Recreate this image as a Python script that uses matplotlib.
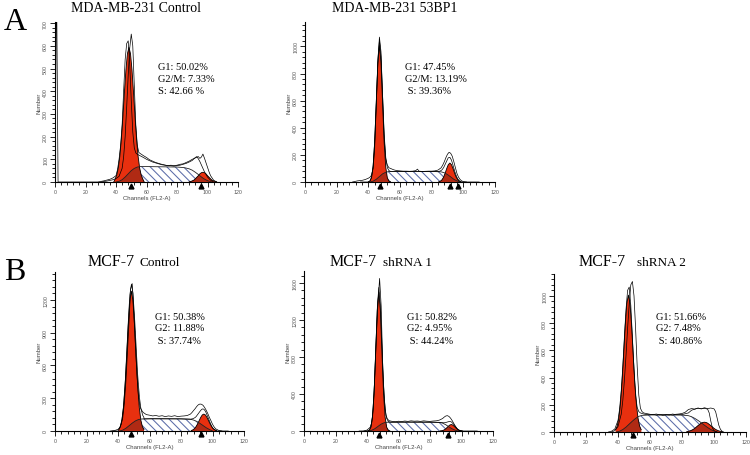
import numpy as np
import matplotlib.pyplot as plt
from matplotlib.ticker import MultipleLocator
from matplotlib.transforms import blended_transform_factory

plt.rcParams['font.family'] = ['Liberation Sans', 'DejaVu Sans']
plt.rcParams['hatch.linewidth'] = 0.75

W, H = 750, 456
RED = '#e8300f'
DARK_RED = '#b02a14'
HATCH = '#5b6ca8'
SERIF = ['Liberation Serif', 'DejaVu Serif']

# ---- MDA-MB-231 Control ----
mda_ctrl_raw_ch = [0, 1, 2, 28, 32, 36, 38, 40, 41, 42, 43, 44, 45, 46, 47, 48, 49, 50, 51, 52, 53, 54, 56, 58, 60, 62,
                   64, 66, 68, 70, 72, 74, 76, 78, 80, 82, 84, 86, 88, 90, 92, 93, 94, 95, 96, 98, 100, 102, 104]
mda_ctrl_raw_n = [0, 900, 0, 0, 5, 12, 18, 28, 55, 100, 160, 250, 400, 540, 610, 622, 520, 360, 220, 150, 128, 122, 115,
                  108, 100, 94, 88, 84, 80, 76, 74, 72, 72, 70, 72, 74, 78, 82, 88, 95, 108, 112, 102, 90, 75, 45, 22, 8, 0]
mda_ctrl_raw2_ch = [30, 34, 38, 40, 42, 44, 45, 46, 47, 48, 49, 50, 51, 52, 53, 54, 55, 56, 58, 60, 62, 64, 66, 68, 70,
                    72, 74, 76, 78, 80, 82, 84, 86, 88, 90, 92, 94, 95, 96, 97, 98, 99, 100, 101, 102, 104, 106]
mda_ctrl_raw2_n = [0, 4, 10, 15, 25, 60, 110, 200, 330, 470, 590, 652, 600, 424, 250, 160, 130, 125, 116, 108, 98, 92,
                   86, 82, 78, 75, 72, 74, 72, 74, 78, 80, 86, 92, 100, 106, 112, 104, 110, 123, 105, 85, 65, 45, 28, 8, 0]
mda_ctrl_g1_ch = [38.5, 39.5, 40.5, 41.5, 42.5, 43.5, 44.5, 45.5, 46.5, 47.5, 48.5, 49.5, 50.5, 51.5, 52.5, 53.5, 54.5,
                  55.5, 56.5, 57.5, 58.5]
mda_ctrl_g1_n = [0, 14, 31, 62, 113, 188, 285, 393, 493, 566, 593, 566, 493, 393, 285, 188, 113, 62, 31, 14, 0]
mda_ctrl_s_ch = [40, 42, 44, 46, 48, 50, 52, 54, 56, 60, 70, 80, 85, 88, 90, 92, 94, 96, 98, 100, 103]
mda_ctrl_s_n = [0, 3, 10, 22, 36, 50, 60, 66, 68, 68, 67, 66, 63, 58, 52, 43, 33, 22, 13, 6, 0]
mda_ctrl_g2_ch = [88, 89, 90, 91, 92, 93, 94, 95, 96, 97, 98, 99, 100, 101, 102, 103, 104, 105, 106]
mda_ctrl_g2_n = [1, 2, 5, 8, 14, 21, 28, 36, 41, 43, 41, 36, 28, 21, 14, 8, 5, 2, 1]
mda_ctrl_marks = [50, 96]
mda_ctrl_stats = ['G1: 50.02%', 'G2/M: 7.33%', 'S: 42.66 %']

# ---- MDA-MB-231 53BP1 ----
mda_bp_raw_ch = [30, 33, 36, 38, 40, 41, 42, 43, 44, 45, 46, 47, 48, 49, 50, 51, 52, 53, 54, 56, 58, 60, 62, 64, 66, 68,
                 70, 71, 72, 74, 76, 78, 80, 82, 84, 86, 87, 88, 89, 90, 91, 92, 93, 94, 95, 96, 97, 98, 99, 100, 102]
mda_bp_raw_n = [0, 8, 12, 18, 28, 35, 50, 100, 250, 560, 880, 1069, 960, 640, 330, 170, 125, 105, 100, 90, 84, 82, 80,
                80, 79, 80, 84, 95, 80, 78, 79, 80, 80, 82, 88, 105, 125, 150, 180, 205, 219, 212, 190, 150, 105, 62, 35,
                18, 8, 3, 0]
mda_bp_g1_ch = [40, 41, 42, 43, 44, 45, 46, 47, 48, 49, 50, 51, 52, 53, 54]
mda_bp_g1_n = [1, 7, 31, 110, 290, 580, 878, 1008, 878, 580, 290, 110, 31, 7, 1]
mda_bp_s_ch = [41, 43, 45, 47, 49, 51, 53, 60, 70, 80, 86, 88, 90, 92, 94, 96, 98]
mda_bp_s_n = [0, 6, 20, 40, 60, 72, 77, 78, 78, 78, 75, 68, 55, 38, 20, 8, 0]
mda_bp_g2_ch = [84.5, 85.5, 86.5, 87.5, 88.5, 89.5, 90.5, 91.5, 92.5, 93.5, 94.5, 95.5, 96.5, 97.5, 98.5]
mda_bp_g2_n = [2, 6, 16, 35, 64, 99, 128, 140, 128, 99, 64, 35, 16, 6, 2]
mda_bp_marks = [47.5, 91.5, 96.5]
mda_bp_stats = ['G1: 47.45%', 'G2/M: 13.19%', ' S: 39.36%']

# ---- MCF-7 Control ----
mcf_ctrl_raw_ch = [36, 38, 40, 41, 42, 43, 44, 45, 46, 47, 48, 49, 50, 51, 52, 53, 54, 55, 56, 57, 58, 60, 62, 64, 66,
                   68, 70, 72, 74, 76, 78, 80, 82, 84, 86, 87, 88, 89, 90, 91, 92, 93, 94, 95, 96, 97, 98, 99, 100, 101,
                   102, 104, 106]
mcf_ctrl_raw_n = [0, 5, 15, 30, 60, 120, 250, 450, 720, 1000, 1300, 1350, 1100, 800, 520, 320, 220, 190, 170, 160, 150,
                  145, 138, 142, 135, 140, 132, 138, 134, 140, 132, 136, 138, 142, 155, 170, 188, 205, 225, 240, 247, 245,
                  235, 215, 190, 160, 125, 95, 62, 38, 20, 5, 0]
mcf_ctrl_g1_ch = [40.5, 41.5, 42.5, 43.5, 44.5, 45.5, 46.5, 47.5, 48.5, 49.5, 50.5, 51.5, 52.5, 53.5, 54.5, 55.5, 56.5]
mcf_ctrl_g1_n = [13, 39, 99, 216, 410, 674, 963, 1192, 1280, 1192, 963, 674, 410, 216, 99, 39, 13]
mcf_ctrl_s_ch = [41, 43, 45, 47, 49, 51, 53, 55, 60, 70, 80, 86, 88, 90, 92, 94, 96, 98, 100]
mcf_ctrl_s_n = [0, 8, 25, 48, 72, 92, 105, 110, 112, 112, 111, 108, 100, 88, 70, 50, 30, 14, 0]
mcf_ctrl_g2_ch = [86.5, 87.5, 88.5, 89.5, 90.5, 91.5, 92.5, 93.5, 94.5, 95.5, 96.5, 97.5, 98.5, 99.5, 100.5, 101.5,
                  102.5]
mcf_ctrl_g2_n = [4, 10, 21, 39, 64, 94, 124, 147, 155, 147, 124, 94, 64, 39, 21, 10, 4]
mcf_ctrl_marks = [48.5, 92.5]
mcf_ctrl_stats = ['G1: 50.38%', 'G2: 11.88%', ' S: 37.74%']

# ---- MCF-7 shRNA 1 ----
mcf_sh1_raw_ch = [38, 40, 42, 43, 44, 45, 46, 47, 48, 49, 50, 51, 52, 53, 54, 56, 58, 60, 62, 64, 66, 68, 70, 72, 74,
                  76, 78, 80, 82, 84, 86, 88, 89, 90, 91, 92, 93, 94, 95, 96, 97, 98, 100]
mcf_sh1_raw_n = [0, 10, 40, 90, 250, 620, 1050, 1400, 1650, 1350, 700, 340, 170, 130, 112, 104, 100, 106, 102, 108, 104,
                 110, 106, 108, 104, 110, 106, 104, 108, 110, 118, 135, 150, 162, 166, 158, 140, 115, 85, 55, 30, 12, 0]
mcf_sh1_g1_ch = [40.5, 41.5, 42.5, 43.5, 44.5, 45.5, 46.5, 47.5, 48.5, 49.5, 50.5, 51.5, 52.5, 53.5, 54.5]
mcf_sh1_g1_n = [1, 8, 41, 149, 408, 842, 1299, 1500, 1299, 842, 408, 149, 41, 8, 1]
mcf_sh1_s_ch = [41, 43, 45, 47, 49, 51, 53, 60, 70, 80, 86, 88, 90, 92, 94, 96, 98]
mcf_sh1_s_n = [0, 8, 25, 50, 75, 90, 95, 96, 96, 96, 93, 85, 68, 45, 24, 9, 0]
mcf_sh1_g2_ch = [86.5, 87.5, 88.5, 89.5, 90.5, 91.5, 92.5, 93.5, 94.5, 95.5, 96.5, 97.5, 98.5, 99.5, 100.5]
mcf_sh1_g2_n = [1, 3, 8, 17, 32, 49, 64, 70, 64, 49, 32, 17, 8, 3, 1]
mcf_sh1_marks = [47.8, 91.6]
mcf_sh1_stats = ['G1: 50.82%', 'G2: 4.95%', ' S: 44.24%']

# ---- MCF-7 shRNA 2 ----
mcf_sh2_raw_ch = [34, 36, 38, 40, 41, 42, 43, 44, 45, 46, 47, 48, 49, 50, 51, 52, 53, 54, 56, 58, 60, 62, 64, 66, 68,
                  70, 72, 74, 76, 78, 80, 82, 84, 86, 88, 90, 92, 94, 96, 97, 98, 99, 100, 102]
mcf_sh2_raw_n = [0, 6, 22, 85, 170, 300, 480, 700, 900, 1040, 1064, 930, 700, 460, 270, 180, 150, 140, 132, 128, 126,
                 130, 124, 128, 122, 126, 128, 124, 130, 132, 136, 145, 165, 172, 168, 175, 170, 174, 168, 140, 80, 30,
                 10, 0]
mcf_sh2_raw2_ch = [36, 38, 40, 42, 43, 44, 45, 46, 47, 48, 49, 50, 51, 52, 53, 54, 55, 56, 58, 60, 62, 64, 66, 68, 70,
                   72, 74, 76, 78, 80, 82, 84, 86, 88, 90, 92, 94, 96, 98, 100, 101, 102, 103, 104, 105, 106]
mcf_sh2_raw2_n = [0, 10, 40, 130, 230, 380, 560, 760, 940, 1080, 1105, 1000, 760, 480, 270, 175, 150, 140, 135, 130,
                  128, 132, 125, 130, 128, 124, 132, 128, 130, 128, 134, 140, 160, 168, 176, 170, 178, 172, 176, 170,
                  150, 100, 50, 20, 6, 0]
mcf_sh2_g1_ch = [38.5, 39.5, 40.5, 41.5, 42.5, 43.5, 44.5, 45.5, 46.5, 47.5, 48.5, 49.5, 50.5, 51.5, 52.5, 53.5, 54.5]
mcf_sh2_g1_n = [17, 44, 102, 204, 362, 566, 779, 943, 1005, 943, 779, 566, 362, 204, 102, 44, 17]
mcf_sh2_s_ch = [39, 41, 43, 45, 47, 49, 51, 53, 55, 60, 70, 80, 84, 86, 88, 90, 92, 94, 96, 98, 100, 102]
mcf_sh2_s_n = [0, 6, 18, 36, 58, 80, 100, 115, 122, 125, 125, 124, 120, 112, 100, 85, 68, 50, 33, 18, 7, 0]
mcf_sh2_g2_ch = [83, 84, 85, 86, 87, 88, 89, 90, 91, 92, 93, 94, 95, 96, 97, 98, 99, 100, 101, 102, 103, 104, 105]
mcf_sh2_g2_n = [3, 5, 8, 13, 19, 27, 37, 47, 56, 65, 70, 72, 70, 65, 56, 47, 37, 27, 19, 13, 8, 5, 3]
mcf_sh2_marks = [49.2]
mcf_sh2_stats = ['G1: 51.66%', 'G2: 7.48%', ' S: 40.86%']


def px_axes(fig, x0, x1, ytop, ybot):
    return fig.add_axes([x0 / W, 1 - ybot / H, (x1 - x0) / W, (ybot - ytop) / H])


def overlap(ax, a_ch, a_n, b_ch, b_n):
    # darker red where the S-phase curve sits under a G1/G2 peak
    x = np.linspace(min(a_ch), max(a_ch), 300)
    lo = np.minimum(np.interp(x, a_ch, a_n, left=0, right=0), np.interp(x, b_ch, b_n, left=0, right=0))
    ax.fill_between(x, 0, lo, facecolor=DARK_RED, linewidth=0, zorder=3)


def draw_panel(ax, raw_ch, raw_n, g1_ch, g1_n, s_ch, s_n, g2_ch, g2_n, ymax, ymajor, marks, raw2=None):
    ax.fill_between(s_ch, 0, s_n, facecolor='white', edgecolor=HATCH, hatch='\\\\\\\\', linewidth=0, zorder=1)
    for ch, n in [(g1_ch, g1_n), (g2_ch, g2_n)]:
        ax.fill_between(ch, 0, n, facecolor=RED, linewidth=0, zorder=2)
        overlap(ax, ch, n, s_ch, s_n)
        ax.plot(ch, n, color='black', lw=0.6, zorder=4)
    ax.plot(s_ch, s_n, color='#222222', lw=0.6, zorder=4)
    ax.plot(raw_ch, raw_n, color='black', lw=0.5, zorder=5)
    if raw2 is not None:
        ax.plot(raw2[0], raw2[1], color='black', lw=0.5, zorder=5)
    else:
        # model fit = sum of components
        x = np.linspace(35, 110, 600)
        fit = sum(np.interp(x, c, n, left=0, right=0) for c, n in [(g1_ch, g1_n), (s_ch, s_n), (g2_ch, g2_n)])
        ax.plot(x, fit, color='black', lw=0.5, zorder=5)

    trans = blended_transform_factory(ax.transData, ax.transAxes)
    ax.plot(marks, [-0.022] * len(marks), '^', color='black', ms=3.5, transform=trans, clip_on=False, zorder=6)

    ax.set_xlim(0, 120)
    ax.set_ylim(0, ymax)
    ax.xaxis.set_major_locator(MultipleLocator(20))
    ax.xaxis.set_minor_locator(MultipleLocator(4))
    ax.yaxis.set_major_locator(MultipleLocator(ymajor))
    ax.yaxis.set_minor_locator(MultipleLocator(ymajor / 5))
    for s in ['top', 'right']:
        ax.spines[s].set_visible(False)
    for s in ['left', 'bottom']:
        ax.spines[s].set_linewidth(0.8)
    ax.tick_params(which='both', direction='out', width=0.6, labelsize=3.8, labelcolor='#555555', pad=1.5)
    ax.tick_params(which='major', length=3.5)
    ax.tick_params(which='minor', length=2.2)
    for lab in ax.get_yticklabels():
        lab.set_rotation(90)
        lab.set_va('center')
    ax.set_xlabel('Channels (FL2-A)', fontsize=4.3, color='#444444', labelpad=0.5)
    ax.set_ylabel('Number', fontsize=4.3, color='#444444', labelpad=1)
    ax.patch.set_alpha(0)


def stats_text(fig, x, y, lines):
    for i, t in enumerate(lines):
        fig.text(x / W, 1 - (y + 12 * i) / H, t, fontsize=7.5, family=SERIF, va='center', ha='left')


fig = plt.figure(figsize=(7.5, 4.56), dpi=100)

ax1 = px_axes(fig, 55, 238, 23, 183)
draw_panel(ax1, mda_ctrl_raw_ch, mda_ctrl_raw_n, mda_ctrl_g1_ch, mda_ctrl_g1_n, mda_ctrl_s_ch, mda_ctrl_s_n,
           mda_ctrl_g2_ch, mda_ctrl_g2_n, 705, 100, mda_ctrl_marks, raw2=(mda_ctrl_raw2_ch, mda_ctrl_raw2_n))
ax2 = px_axes(fig, 305, 495, 23, 183)
draw_panel(ax2, mda_bp_raw_ch, mda_bp_raw_n, mda_bp_g1_ch, mda_bp_g1_n, mda_bp_s_ch, mda_bp_s_n,
           mda_bp_g2_ch, mda_bp_g2_n, 1180, 200, mda_bp_marks)
ax3 = px_axes(fig, 55, 244, 273, 432)
draw_panel(ax3, mcf_ctrl_raw_ch, mcf_ctrl_raw_n, mcf_ctrl_g1_ch, mcf_ctrl_g1_n, mcf_ctrl_s_ch, mcf_ctrl_s_n,
           mcf_ctrl_g2_ch, mcf_ctrl_g2_n, 1456, 300, mcf_ctrl_marks)
ax4 = px_axes(fig, 304, 493, 272, 432)
draw_panel(ax4, mcf_sh1_raw_ch, mcf_sh1_raw_n, mcf_sh1_g1_ch, mcf_sh1_g1_n, mcf_sh1_s_ch, mcf_sh1_s_n,
           mcf_sh1_g2_ch, mcf_sh1_g2_n, 1730, 400, mcf_sh1_marks)
ax5 = px_axes(fig, 554, 746, 275, 433)
draw_panel(ax5, mcf_sh2_raw_ch, mcf_sh2_raw_n, mcf_sh2_g1_ch, mcf_sh2_g1_n, mcf_sh2_s_ch, mcf_sh2_s_n,
           mcf_sh2_g2_ch, mcf_sh2_g2_n, 1160, 200, mcf_sh2_marks, raw2=(mcf_sh2_raw2_ch, mcf_sh2_raw2_n))

# titles
fig.text(136 / W, 1 - 8.5 / H, 'MDA-MB-231 Control', fontsize=10, family=SERIF, ha='center', va='center')
fig.text(395 / W, 1 - 8.5 / H, 'MDA-MB-231 53BP1', fontsize=10, family=SERIF, ha='center', va='center')
for xm, xs, suffix in [(135, 139, 'Control'), (377, 383, 'shRNA 1'), (626, 637, 'shRNA 2')]:
    fig.text(xm / W, 1 - 262 / H, 'MCF-7', fontsize=11.5, family=SERIF, ha='right', va='center')
    fig.text(xs / W, 1 - 263 / H, suffix, fontsize=9.5, family=SERIF, ha='left', va='center')

fig.text(15 / W, 1 - 22 / H, 'A', fontsize=23, family=SERIF, ha='center', va='center')
fig.text(15 / W, 1 - 273 / H, 'B', fontsize=23, family=SERIF, ha='center', va='center')

stats_text(fig, 158, 67, mda_ctrl_stats)
stats_text(fig, 405, 67, mda_bp_stats)
stats_text(fig, 155, 317, mcf_ctrl_stats)
stats_text(fig, 407, 317, mcf_sh1_stats)
stats_text(fig, 656, 317, mcf_sh2_stats)

fig.savefig('out.png', dpi=100)
